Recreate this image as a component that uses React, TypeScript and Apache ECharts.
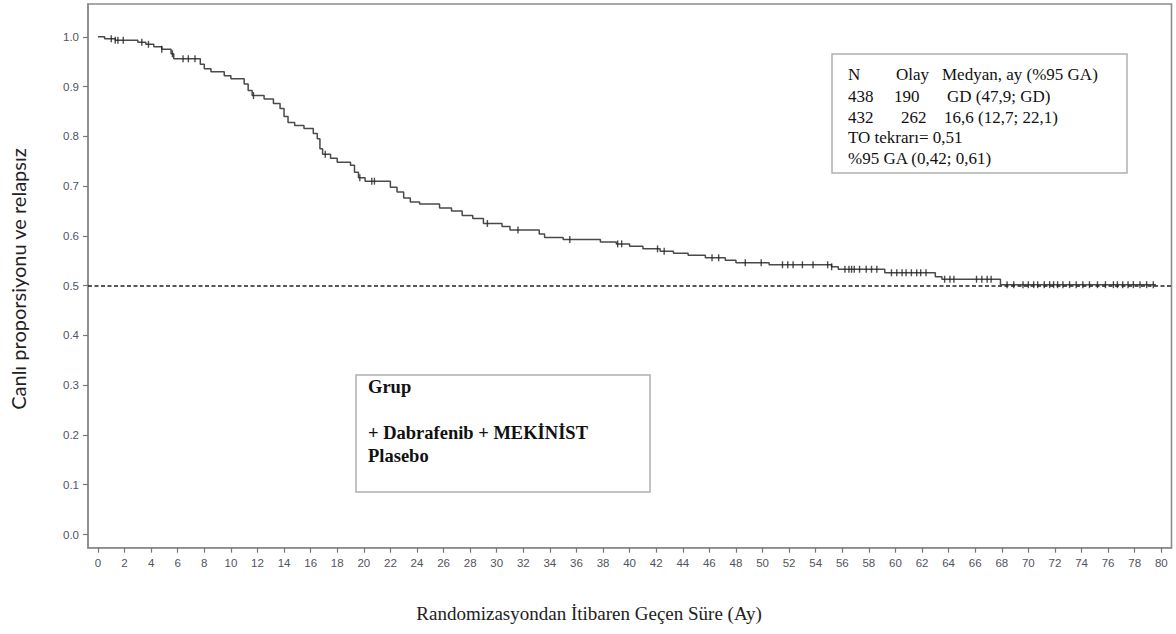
import React, { useEffect, useRef } from "react";
import * as echarts from "echarts";

// Kaplan-Meier step curve (time in months, proportion after each drop)
const kmTime = [0, 0.5, 1.3, 3.0, 3.6, 4.2, 4.8, 5.5, 5.7, 7.7, 8.0, 8.5, 9.5, 10.0, 11.0, 11.3, 11.6, 12.5, 13.2, 13.7, 14.0, 14.3, 14.8, 15.5, 16.2, 16.5, 16.7, 16.9, 17.5, 18.0, 19.0, 19.3, 19.6, 20.1, 22.0, 22.5, 23.0, 23.5, 24.2, 25.7, 26.6, 27.4, 28.2, 29.0, 30.4, 31.0, 33.2, 33.6, 35.0, 37.8, 39.0, 40.0, 41.0, 42.3, 43.3, 44.4, 45.7, 47.2, 48.0, 50.5, 55.2, 55.7, 59.2, 63.0, 63.5, 67.9, 79.6];
const kmSurv = [1.0, 0.996, 0.993, 0.989, 0.985, 0.98, 0.975, 0.966, 0.956, 0.945, 0.936, 0.93, 0.922, 0.916, 0.905, 0.892, 0.882, 0.875, 0.866, 0.856, 0.84, 0.828, 0.822, 0.816, 0.806, 0.795, 0.775, 0.764, 0.756, 0.748, 0.742, 0.728, 0.717, 0.71, 0.698, 0.688, 0.676, 0.668, 0.664, 0.656, 0.65, 0.641, 0.635, 0.625, 0.619, 0.612, 0.604, 0.597, 0.593, 0.588, 0.584, 0.579, 0.574, 0.569, 0.565, 0.561, 0.556, 0.551, 0.546, 0.542, 0.538, 0.533, 0.526, 0.518, 0.513, 0.502, 0.502];

// censoring times (tick marks on the curve)
const censorTimes = [1.0, 1.3, 1.5, 1.9, 3.3, 3.8, 4.8, 5.6, 6.4, 6.8, 7.3, 11.7, 17.1, 19.7, 20.6, 20.8, 29.3, 31.6, 35.5, 39.1, 39.4, 42.1, 42.6, 46.2, 46.7, 48.7, 49.9, 51.5, 51.9, 52.3, 53.0, 53.8, 54.9, 55.2, 56.2, 56.5, 56.7, 56.9, 57.3, 57.8, 58.2, 58.6, 59.7, 60.1, 60.5, 60.8, 61.2, 61.6, 61.9, 62.3, 63.7, 64.1, 64.4, 66.1, 66.5, 66.9, 67.2, 68.4, 68.9, 69.6, 70.0, 70.4, 70.7, 71.2, 71.6, 71.9, 72.2, 72.6, 73.1, 73.6, 74.1, 74.6, 75.2, 75.8, 76.4, 76.7, 77.1, 77.5, 77.9, 78.4, 78.9, 79.4];

const referenceLine = 0.5;

const xTicks = [0, 2, 4, 6, 8, 10, 12, 14, 16, 18, 20, 22, 24, 26, 28, 30, 32, 34, 36, 38, 40, 42, 44, 46, 48, 50, 52, 54, 56, 58, 60, 62, 64, 66, 68, 70, 72, 74, 76, 78, 80];
const yTicks = [0.0, 0.1, 0.2, 0.3, 0.4, 0.5, 0.6, 0.7, 0.8, 0.9, 1.0];

const xTitle = "Randomizasyondan İtibaren Geçen Süre (Ay)";
const yTitle = "Canlı proporsiyonu ve relapsız";

const statHeader = ["N", "Olay", "Medyan, ay (%95 GA)"];
const statRow1 = ["438", "190", "GD (47,9; GD)"];
const statRow2 = ["432", "262", "16,6 (12,7; 22,1)"];
const statExtra = ["TO tekrarı= 0,51", "%95 GA (0,42; 0,61)"];

const groupTitle = "Grup";
const groupNames = ["+ Dabrafenib + MEKİNİST", "Plasebo"];

function survAt(t: number): number {
  let s = kmSurv[0];
  for (let i = 0; i < kmTime.length; i++) {
    if (kmTime[i] <= t) s = kmSurv[i];
    else break;
  }
  return s;
}

export default function App() {
  const ref = useRef<HTMLDivElement>(null);
  useEffect(() => {
    if (!ref.current) return;
    const chart = echarts.init(ref.current, null, { renderer: "svg" });
    const serif = '"Liberation Serif", "Times New Roman", serif';
    const txt = (text: string, x: number, y: number, size = 17, weight = "normal") => ({
      type: "text",
      x,
      y,
      z: 20,
      style: {
        text,
        fill: "#111",
        fontFamily: serif,
        fontSize: size,
        fontWeight: weight,
        align: "left",
        verticalAlign: "middle",
      },
    });
    const statCols = [848, 896, 942];
    const row1Cols = [848, 894, 947];
    const row2Cols = [848, 901, 944];
    const option: any = {
      animation: false,
      grid: {
        left: 88,
        right: 4.5,
        top: 4,
        bottom: 86.3,
        show: true,
        borderColor: "#8c8c8c",
        borderWidth: 1.6,
        backgroundColor: "transparent",
      },
      xAxis: {
        type: "value",
        min: -0.75,
        max: 80.77,
        splitLine: { show: false },
        axisLine: { show: true, onZero: false, lineStyle: { color: "#8c8c8c", width: 1.6 } },
        axisTick: { show: true, length: 5, customValues: xTicks, lineStyle: { color: "#777", width: 1.2 } },
        axisLabel: {
          customValues: xTicks,
          margin: 9,
          color: "#50545e",
          fontSize: 11.5,
          fontFamily: '"Liberation Sans", Arial, sans-serif',
        },
      },
      yAxis: {
        type: "value",
        min: -0.0265,
        max: 1.066,
        splitLine: { show: false },
        axisLine: { show: true, onZero: false, lineStyle: { color: "#8c8c8c", width: 1.6 } },
        axisTick: { show: true, length: 5, customValues: yTicks, lineStyle: { color: "#777", width: 1.2 } },
        axisLabel: {
          customValues: yTicks,
          margin: 9,
          color: "#50545e",
          fontSize: 11.5,
          fontFamily: '"Liberation Sans", Arial, sans-serif',
          formatter: (v: number) => v.toFixed(1),
        },
      },
      series: [
        {
          type: "line",
          step: "end",
          data: kmTime.map((t, i) => [t, kmSurv[i]]),
          showSymbol: false,
          symbol: "none",
          lineStyle: { color: "#4a4a4a", width: 1.5 },
          z: 3,
          markLine: {
            silent: true,
            symbol: ["none", "none"],
            label: { show: false },
            lineStyle: { type: [4, 2.5], color: "#222", width: 1.6 },
            data: [{ yAxis: referenceLine }],
          },
        },
        {
          type: "scatter",
          data: censorTimes.map((t) => [t, survAt(t)]),
          symbol: "rect",
          symbolSize: [1.4, 7],
          itemStyle: { color: "#222" },
          z: 4,
        },
      ],
      graphic: [
        {
          type: "text",
          x: 18,
          y: 279,
          rotation: Math.PI / 2,
          z: 20,
          style: {
            text: yTitle,
            fill: "#222",
            fontFamily: 'Lato, "Open Sans", sans-serif',
            fontSize: 20,
            align: "center",
            verticalAlign: "middle",
          },
        },
        {
          type: "text",
          x: 589,
          y: 613,
          z: 20,
          style: {
            text: xTitle,
            fill: "#222",
            fontFamily: serif,
            fontSize: 19,
            align: "center",
            verticalAlign: "middle",
          },
        },
        {
          type: "rect",
          shape: { x: 832, y: 54, width: 295, height: 119 },
          style: { fill: "#fff", stroke: "#b0b0b0", lineWidth: 1.5 },
          z: 10,
        },
        ...statHeader.map((s, i) => txt(s, statCols[i], 74)),
        ...statRow1.map((s, i) => txt(s, row1Cols[i], 96)),
        ...statRow2.map((s, i) => txt(s, row2Cols[i], 117)),
        txt(statExtra[0], 848, 137),
        txt(statExtra[1], 848, 158),
        {
          type: "rect",
          shape: { x: 356, y: 375, width: 294, height: 117 },
          style: { fill: "#fff", stroke: "#b0b0b0", lineWidth: 1.5 },
          z: 10,
        },
        txt(groupTitle, 368, 387, 18.5, "bold"),
        txt(groupNames[0], 368, 433, 18.5, "bold"),
        txt(groupNames[1], 368, 456, 18.5, "bold"),
      ],
    };
    chart.setOption(option);
    return () => chart.dispose();
  }, []);
  return (
    <div
      ref={ref}
      style={{ position: "fixed", left: 0, top: 0, width: 1176, height: 634, background: "#fff" }}
    />
  );
}
